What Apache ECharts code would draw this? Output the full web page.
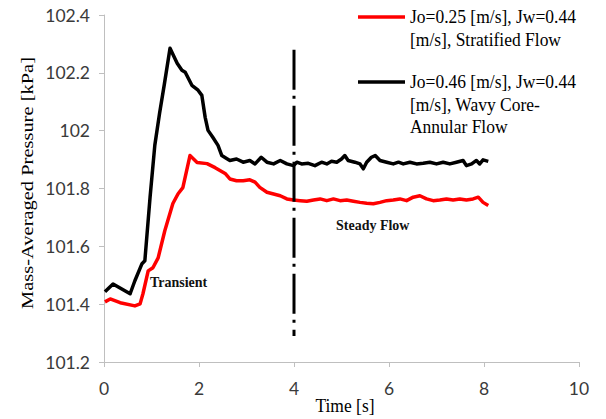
<!DOCTYPE html>
<html>
<head>
<meta charset="utf-8">
<script src="https://cdn.jsdelivr.net/npm/echarts@6/dist/echarts.min.js"></script>
<style>
  html, body { margin: 0; padding: 0; background: #ffffff; }
  #chart { width: 606px; height: 419px; }
</style>
</head>
<body>
<div id="chart"></div>
<script>
// Time axis ticks [s] and pressure axis ticks [kPa]
const xTicks = [0, 2, 4, 6, 8, 10];
const yTicks = [101.2, 101.4, 101.6, 101.8, 102, 102.2, 102.4];

// Jo=0.25, Jw=0.44 - stratified flow: [time s, pressure kPa]
const stratified = [
  [0.02, 101.408], [0.13, 101.418], [0.34, 101.405], [0.65, 101.394], [0.76, 101.401],
  [0.82, 101.436], [0.93, 101.515], [1.03, 101.526], [1.14, 101.560], [1.28, 101.654],
  [1.45, 101.748], [1.56, 101.782], [1.66, 101.803], [1.81, 101.914], [1.96, 101.890],
  [2.17, 101.886], [2.34, 101.872], [2.55, 101.852], [2.65, 101.833], [2.79, 101.827],
  [2.93, 101.827], [3.07, 101.830], [3.18, 101.822], [3.28, 101.804], [3.43, 101.787],
  [3.57, 101.781], [3.71, 101.775], [3.85, 101.764], [3.99, 101.760], [4.13, 101.758],
  [4.27, 101.756], [4.41, 101.760], [4.55, 101.764], [4.69, 101.758], [4.83, 101.764],
  [4.97, 101.758], [5.11, 101.760], [5.25, 101.756], [5.39, 101.752], [5.53, 101.749],
  [5.67, 101.747], [5.81, 101.752], [5.95, 101.758], [6.09, 101.760], [6.23, 101.764],
  [6.37, 101.758], [6.51, 101.770], [6.65, 101.775], [6.79, 101.764], [6.93, 101.758],
  [7.07, 101.760], [7.21, 101.764], [7.35, 101.760], [7.49, 101.764], [7.63, 101.760],
  [7.77, 101.764], [7.88, 101.770], [7.98, 101.752], [8.09, 101.741]
];

// Jo=0.46, Jw=0.44 - wavy core-annular flow: [time s, pressure kPa]
const wavyCAF = [
  [0.02, 101.443], [0.19, 101.470], [0.55, 101.436], [0.65, 101.481], [0.80, 101.540],
  [0.86, 101.550], [0.97, 101.770], [1.07, 101.950], [1.17, 102.060], [1.27, 102.160],
  [1.39, 102.285], [1.54, 102.233], [1.64, 102.209], [1.71, 102.202], [1.85, 102.157],
  [1.98, 102.140], [2.06, 102.122], [2.13, 102.046], [2.19, 102.001], [2.29, 101.977],
  [2.40, 101.949], [2.48, 101.914], [2.58, 101.904], [2.65, 101.897], [2.79, 101.902],
  [2.93, 101.891], [3.07, 101.897], [3.18, 101.885], [3.31, 101.908], [3.43, 101.891],
  [3.57, 101.885], [3.71, 101.897], [3.85, 101.885], [3.99, 101.879], [4.06, 101.891],
  [4.16, 101.885], [4.30, 101.887], [4.44, 101.879], [4.58, 101.891], [4.69, 101.885],
  [4.79, 101.894], [4.90, 101.891], [5.00, 101.902], [5.07, 101.914], [5.14, 101.897],
  [5.28, 101.891], [5.39, 101.885], [5.46, 101.868], [5.53, 101.891], [5.63, 101.908],
  [5.71, 101.914], [5.81, 101.897], [5.95, 101.891], [6.09, 101.885], [6.20, 101.891],
  [6.30, 101.885], [6.44, 101.891], [6.58, 101.885], [6.72, 101.887], [6.86, 101.891],
  [7.00, 101.885], [7.14, 101.891], [7.28, 101.885], [7.42, 101.891], [7.56, 101.897],
  [7.63, 101.879], [7.74, 101.885], [7.84, 101.897], [7.91, 101.885], [7.98, 101.899],
  [8.09, 101.894]
];

// Boundary between the transient and the steady regime
const regimeBoundary = [[4, 102.28], [4, 101.29]];

const seriesNames = [
  'Jo=0.25 [m/s], Jw=0.44\n[m/s], Stratified Flow',
  'Jo=0.46 [m/s], Jw=0.44\n[m/s], Wavy Core-\nAnnular Flow'
];
const seriesColors = ['#ff0000', '#000000'];

const chart = echarts.init(document.getElementById('chart'), null, { renderer: 'svg', width: 606, height: 419 });

const serif = '"Liberation Serif", "DejaVu Serif", serif';
const sans = 'Lato, "Open Sans", sans-serif';
const axisGrey = '#bfbfbf';
const labelGrey = '#3a3a3a';

const grid = { left: 104, right: 27, top: 15, bottom: 57 };

// Serif captions are drawn slightly taller than wide
const stretch = 1.1;

// Legend: a short line sample and a multi-line caption for each series
function legendItem(y, color, text) {
  return {
    type: 'group',
    children: [
      { type: 'line', shape: { x1: 358, y1: y, x2: 405, y2: y }, style: { stroke: color, lineWidth: 3.5 } },
      {
        type: 'text', x: 410, y: y - 11.25, scaleY: stretch,
        style: { text: text, font: '17.5px ' + serif, fill: '#000', lineHeight: 20.5, verticalAlign: 'top' }
      }
    ]
  };
}

chart.setOption({
  animation: false,
  backgroundColor: '#ffffff',
  grid: grid,
  xAxis: {
    type: 'value',
    min: xTicks[0],
    max: xTicks[xTicks.length - 1],
    interval: xTicks[1] - xTicks[0],
    axisLine: { show: true, lineStyle: { color: axisGrey, width: 1 } },
    axisTick: { show: true, inside: false, length: 5, lineStyle: { color: axisGrey } },
    axisLabel: { fontFamily: sans, fontSize: 17.5, color: labelGrey, margin: 17 },
    splitLine: { show: false }
  },
  yAxis: {
    type: 'value',
    min: yTicks[0],
    max: yTicks[yTicks.length - 1],
    interval: 0.2,
    axisLine: { show: true, lineStyle: { color: axisGrey, width: 1 } },
    axisTick: { show: true, inside: false, length: 5, lineStyle: { color: axisGrey } },
    axisLabel: { fontFamily: sans, fontSize: 17.5, color: labelGrey, margin: 14 },
    splitLine: { show: false }
  },
  series: [
    {
      name: seriesNames[0],
      type: 'line',
      data: stratified,
      showSymbol: false,
      lineStyle: { color: seriesColors[0], width: 3.5, join: 'round' },
      z: 3
    },
    {
      name: seriesNames[1],
      type: 'line',
      data: wavyCAF,
      showSymbol: false,
      lineStyle: { color: seriesColors[1], width: 3.5, join: 'round' },
      z: 4
    },
    {
      name: 'boundary',
      type: 'line',
      data: regimeBoundary,
      showSymbol: false,
      lineStyle: { color: '#000', width: 3, type: [40, 6, 3, 7] },
      z: 5
    }
  ],
  graphic: [
    legendItem(17, seriesColors[0], seriesNames[0]),
    legendItem(82, seriesColors[1], seriesNames[1]),
    // axis titles
    {
      type: 'text', x: 27, y: 183, rotation: Math.PI / 2, scaleX: 1.17,
      style: { text: 'Mass-Averaged Pressure [kPa]', font: '17.5px ' + serif, fill: '#000', align: 'center', verticalAlign: 'middle' }
    },
    {
      type: 'text', x: 345, y: 406, scaleY: stretch,
      style: { text: 'Time [s]', font: '17.5px ' + serif, fill: '#000', align: 'center', verticalAlign: 'middle' }
    },
    // regime annotations
    {
      type: 'text', x: 150, y: 282, scaleY: stretch,
      style: { text: 'Transient', font: 'bold 14px ' + serif, fill: '#111', verticalAlign: 'middle' }
    },
    {
      type: 'text', x: 336, y: 225, scaleY: stretch,
      style: { text: 'Steady Flow', font: 'bold 14px ' + serif, fill: '#111', verticalAlign: 'middle' }
    }
  ]
});
</script>
</body>
</html>
